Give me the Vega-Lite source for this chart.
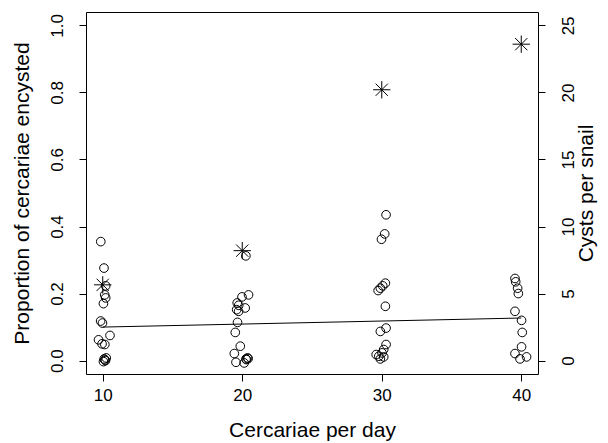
{
  "$schema": "https://vega.github.io/schema/vega-lite/v6.json",
  "width": 452,
  "height": 362,
  "autosize": {"type": "none"},
  "padding": {"left": 86, "top": 12, "right": 70, "bottom": 69},
  "background": "white",
  "config": {
    "view": {"stroke": "black", "strokeWidth": 1},
    "font": "Liberation Sans",
    "axis": {
      "grid": false,
      "domain": false,
      "tickColor": "black",
      "tickSize": 7,
      "tickWidth": 1,
      "labelColor": "black",
      "labelFontSize": 17,
      "labelFont": "Liberation Sans",
      "titleColor": "black",
      "titleFont": "Liberation Sans",
      "titleFontSize": 21,
      "titleFontWeight": "normal"
    }
  },
  "datasets": {
    "pts": [
      {"x": 9.86, "p": 0.355}, {"x": 10.09, "p": 0.276}, {"x": 10.21, "p": 0.223},
      {"x": 10.14, "p": 0.196}, {"x": 10.21, "p": 0.187}, {"x": 10.05, "p": 0.17},
      {"x": 9.85, "p": 0.118}, {"x": 9.98, "p": 0.112},
      {"x": 9.7, "p": 0.062}, {"x": 10.52, "p": 0.075}, {"x": 9.95, "p": 0.05}, {"x": 10.15, "p": 0.048},
      {"x": 10.1, "p": 0.005}, {"x": 10.2, "p": 0.0}, {"x": 10.05, "p": -0.003}, {"x": 10.25, "p": 0.008}, {"x": 10.15, "p": 0.002},
      {"x": 20.26, "p": 0.3125}, {"x": 20.45, "p": 0.196}, {"x": 19.98, "p": 0.19},
      {"x": 19.64, "p": 0.172}, {"x": 19.75, "p": 0.165}, {"x": 20.21, "p": 0.157},
      {"x": 19.6, "p": 0.152}, {"x": 19.74, "p": 0.147}, {"x": 19.66, "p": 0.114},
      {"x": 19.5, "p": 0.084}, {"x": 19.86, "p": 0.043}, {"x": 19.43, "p": 0.021},
      {"x": 19.55, "p": -0.005}, {"x": 20.14, "p": -0.007}, {"x": 20.38, "p": 0.008},
      {"x": 20.27, "p": 0.005}, {"x": 20.42, "p": 0.006}, {"x": 20.3, "p": 0.003},
      {"x": 30.31, "p": 0.435}, {"x": 30.21, "p": 0.378}, {"x": 29.98, "p": 0.362},
      {"x": 30.26, "p": 0.231}, {"x": 30.07, "p": 0.223}, {"x": 29.9, "p": 0.216}, {"x": 29.74, "p": 0.209},
      {"x": 30.26, "p": 0.162}, {"x": 30.31, "p": 0.097}, {"x": 29.9, "p": 0.087},
      {"x": 30.31, "p": 0.048}, {"x": 30.14, "p": 0.033}, {"x": 29.79, "p": 0.013},
      {"x": 30.02, "p": 0.023}, {"x": 29.6, "p": 0.018}, {"x": 29.9, "p": 0.005}, {"x": 30.14, "p": 0.011},
      {"x": 39.55, "p": 0.245}, {"x": 39.6, "p": 0.235}, {"x": 39.74, "p": 0.216}, {"x": 39.79, "p": 0.2},
      {"x": 39.55, "p": 0.147}, {"x": 40.02, "p": 0.12}, {"x": 40.07, "p": 0.084},
      {"x": 40.02, "p": 0.041}, {"x": 39.55, "p": 0.021}, {"x": 40.38, "p": 0.011}, {"x": 39.91, "p": 0.005}
    ],
    "fit": [
      {"x": 10, "p": 0.1},
      {"x": 40, "p": 0.127}
    ],
    "stars": [
      {"x": 10, "cysts": 5.65},
      {"x": 20, "cysts": 8.2},
      {"x": 30, "cysts": 20.2},
      {"x": 40, "cysts": 23.6}
    ]
  },
  "layer": [
    {
      "data": {"name": "pts"},
      "mark": {"type": "point", "shape": "circle", "filled": false, "stroke": "black", "strokeWidth": 1, "size": 75, "opacity": 1},
      "encoding": {
        "x": {"field": "x", "type": "quantitative",
              "scale": {"domain": [8.8, 41.2], "nice": false, "zero": false},
              "axis": {"values": [10, 20, 30, 40], "title": "Cercariae per day", "labelPadding": 6, "titlePadding": 16, "labelFlush": false}},
        "y": {"field": "p", "type": "quantitative",
              "scale": {"domain": [-0.04, 1.04], "nice": false, "zero": false},
              "axis": {"orient": "left", "values": [0, 0.2, 0.4, 0.6, 0.8, 1.0], "format": ".1f",
                       "title": "Proportion of cercariae encysted",
                       "labelAngle": -90, "labelAlign": "center", "labelBaseline": "bottom", "labelPadding": 13,
                       "titlePadding": 16, "labelFlush": false}}
      }
    },
    {
      "data": {"name": "fit"},
      "mark": {"type": "line", "color": "black", "strokeWidth": 1},
      "encoding": {
        "x": {"field": "x", "type": "quantitative"},
        "y": {"field": "p", "type": "quantitative",
              "scale": {"domain": [-0.04, 1.04], "nice": false, "zero": false},
              "axis": null}
      }
    },
    {
      "data": {"name": "stars"},
      "mark": {"type": "point", "shape": "M-1,0L1,0M0,-1L0,1M-0.707,-0.707L0.707,0.707M-0.707,0.707L0.707,-0.707",
               "filled": false, "stroke": "black", "strokeWidth": 1, "size": 300, "opacity": 1},
      "encoding": {
        "x": {"field": "x", "type": "quantitative"},
        "y": {"field": "cysts", "type": "quantitative",
              "scale": {"domain": [-1, 26], "nice": false, "zero": false},
              "axis": {"orient": "right", "values": [0, 5, 10, 15, 20, 25],
                       "title": "Cysts per snail",
                       "labelAngle": -90, "labelAlign": "center", "labelBaseline": "bottom", "labelPadding": 32,
                       "titleAngle": -90, "titleBaseline": "top", "titlePadding": -1, "labelFlush": false}}
      }
    }
  ],
  "resolve": {"scale": {"y": "independent"}}
}
